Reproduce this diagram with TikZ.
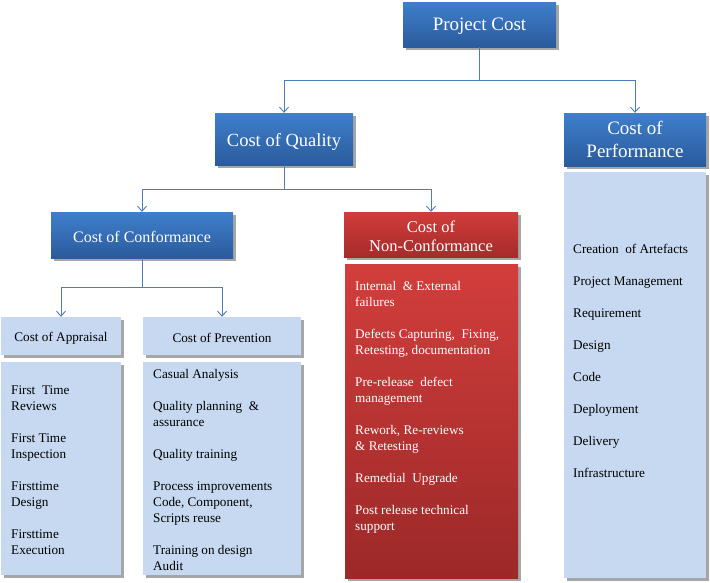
\documentclass[tikz,border=0pt]{standalone}
\usepackage{fontspec}
\setmainfont{Liberation Serif}
\usetikzlibrary{arrows.meta,shadows}
\definecolor{dbtop}{HTML}{3F7FCC}
\definecolor{dbbot}{HTML}{2A5B9C}
\definecolor{rdtop}{HTML}{D03D3B}
\definecolor{rdbot}{HTML}{A52B2B}
\definecolor{rltop}{HTML}{D23E3C}
\definecolor{rlbot}{HTML}{9C2828}
\definecolor{lblue}{HTML}{C6D9F1}
\definecolor{conncol}{HTML}{4A7EBB}
\newcommand{\listtext}[1]{\vtop{\fontsize{13.2}{16}\selectfont\baselineskip=16pt\halign{##\hfil\cr#1\crcr}}}
\newcommand{\dn}[2]{\raisebox{-#1pt}[\height][\depth]{#2}}
\newcommand{\twol}[2]{\begin{tabular}{@{}c@{}}#1\\#2\end{tabular}}
\tikzset{
  shad/.style={drop shadow={shadow xshift=2.5pt,shadow yshift=-2.5pt,opacity=0.35,fill=black}},
  darkbox/.style={shad,draw=none,top color=dbtop,bottom color=dbbot,text=white,inner sep=0pt,align=center},
  redbox/.style={shad,draw=none,top color=rdtop,bottom color=rdbot,text=white,inner sep=0pt,align=center},
  redlist/.style={shad,draw=none,top color=rltop,bottom color=rlbot,inner sep=0pt},
  lightbox/.style={shad,draw=none,fill=lblue,text=black,inner sep=0pt,align=center},
  txt/.style={anchor=base west,inner sep=0pt},
  conn/.style={draw=conncol,line width=0.9pt,-{Straight Barb[length=5pt,width=9pt]}},
}
\begin{document}
\begin{tikzpicture}[x=1pt,y=-1pt]
\useasboundingbox (0,0) rectangle (710,582);
% header boxes
\node[darkbox,minimum width=153pt,minimum height=45pt,font=\fontsize{19}{22}\selectfont] (pc) at (479.5,24.5) {\dn{2}{Project Cost}};
\node[darkbox,minimum width=138pt,minimum height=52pt,font=\fontsize{18.5}{22}\selectfont] (coq) at (284,139) {\dn{3}{Cost of Quality}};
\node[darkbox,minimum width=142pt,minimum height=53pt,font=\fontsize{19}{23}\selectfont] (cop) at (635,139.5) {\dn{2}{\twol{Cost of}{Performance}}};
\node[darkbox,minimum width=182pt,minimum height=46pt,font=\fontsize{16}{19}\selectfont] (cocf) at (142,235) {\dn{2}{Cost of Conformance}};
\node[redbox,minimum width=174pt,minimum height=45pt,font=\fontsize{16.5}{19}\selectfont] (ncf) at (431,234.5) {\dn{3.5}{\twol{Cost of}{Non-Conformance}}};
\node[lightbox,minimum width=120pt,minimum height=38pt,font=\fontsize{13.2}{16}\selectfont] (app) at (61,336) {\dn{2}{Cost of Appraisal}};
\node[lightbox,minimum width=158pt,minimum height=38pt,font=\fontsize{13.2}{16}\selectfont] (prev) at (222,336) {\dn{2}{Cost of Prevention}};
% list boxes
\node[lightbox,minimum width=142pt,minimum height=406pt] (perfl) at (635,375) {};
\node[redlist,minimum width=173pt,minimum height=314pt] (ncfl) at (431.5,421) {};
\node[lightbox,minimum width=120pt,minimum height=213pt] (appl) at (61,468.5) {};
\node[lightbox,minimum width=158pt,minimum height=213pt] (prevl) at (222,468.5) {};
% list texts
\node[txt,text=black] (perft) at (573,253.5) {\listtext{Creation\ \ of Artefacts\cr\cr Project Management\cr\cr Requirement\cr\cr Design\cr\cr Code\cr\cr Deployment\cr\cr Delivery\cr\cr Infrastructure}};
\node[txt,text=white] (ncft) at (355,290.5) {\listtext{Internal\ \ \& External\cr failures\cr\cr Defects Capturing,\ \ Fixing,\cr Retesting, documentation\cr\cr Pre-release\ \ defect\cr management\cr\cr Rework, Re-reviews\cr \& Retesting\cr\cr Remedial\ \ Upgrade\cr\cr Post release technical\cr support}};
\node[txt,text=black] (appt) at (11,394.5) {\listtext{First\ \ Time\cr Reviews\cr\cr First Time\cr Inspection\cr\cr Firsttime\cr Design\cr\cr Firsttime\cr Execution}};
\node[txt,text=black] (prevt) at (153,378.5) {\listtext{Casual Analysis\cr\cr Quality planning\ \ \&\cr assurance\cr\cr Quality training\cr\cr Process improvements\cr Code, Component,\cr Scripts reuse\cr\cr Training on design\cr Audit}};
% connectors
\coordinate (j1) at (0,80);
\coordinate (j2) at (0,189);
\coordinate (j3) at (0,287);
\draw[conn] (pc.south) -- (pc.south |- j1) -| (coq.north);
\draw[conn] (pc.south) -- (pc.south |- j1) -| (cop.north);
\draw[conn] (coq.south) -- (coq.south |- j2) -| (cocf.north);
\draw[conn] (coq.south) -- (coq.south |- j2) -| (ncf.north);
\draw[conn] (cocf.south) -- (cocf.south |- j3) -| (app.north);
\draw[conn] (cocf.south) -- (cocf.south |- j3) -| (prev.north);
\end{tikzpicture}
\end{document}
